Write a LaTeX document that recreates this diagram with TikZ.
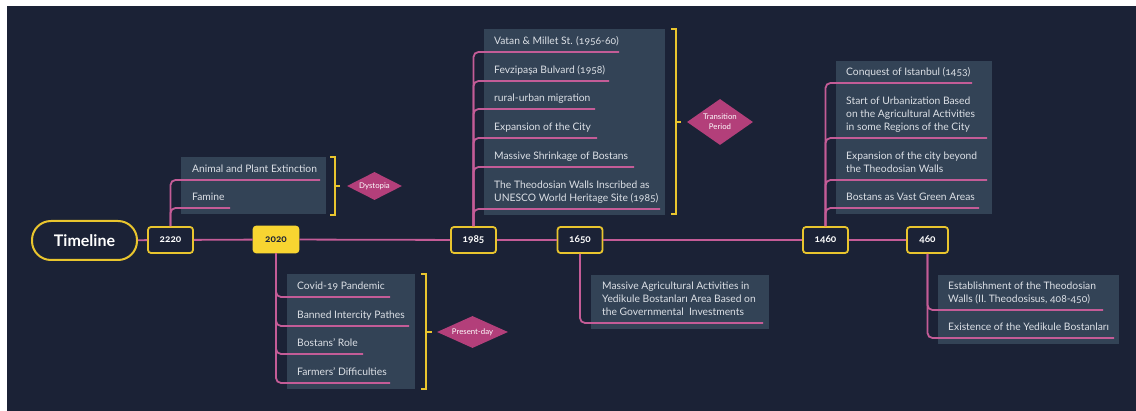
\documentclass[tikz,border=0pt]{standalone}
\usepackage{fontspec}
\setmainfont{Lato}[Numbers=OldStyle]
\usetikzlibrary{shapes.geometric}
\definecolor{bg}{HTML}{1B2236}
\definecolor{panelc}{HTML}{334356}
\definecolor{pinkl}{HTML}{C45C97}
\definecolor{yel}{HTML}{E9C52E}
\definecolor{yelfill}{HTML}{F8D531}
\definecolor{mag}{HTML}{B33F7A}
\definecolor{txt}{HTML}{DCE0E6}
\tikzset{
 conn/.style={draw=pinkl, line width=1.8pt, rounded corners=5pt},
 yearbox/.style={draw=yel, line width=1.8pt, fill=bg, rounded corners=3pt, minimum width=45pt, minimum height=26pt, inner sep=0pt, text=white, font=\fontsize{10}{12}\selectfont\bfseries},
 item/.style={anchor=base west, align=left, inner sep=0pt, text=txt, font=\fontsize{10.3}{13}\selectfont},
 tag/.style={diamond, fill=mag, text=white, inner sep=0pt, aspect=2, font=\fontsize{7.8}{10}\selectfont, align=center},
 brace/.style={draw=yel, line width=1.5pt},
 panel/.style={fill=panelc},
}
\begin{document}
\begin{tikzpicture}[x=1pt,y=-1pt]
\useasboundingbox (0,0) rectangle (1136,411);
\fill[white] (0,0) rectangle (1136,411);
\fill[bg] (7,6) rectangle (1136,411);

% panels
\fill[panel] (181,157) rectangle (326,214);
\fill[panel] (287,274) rectangle (415,389);
\fill[panel] (484,29) rectangle (665,215);
\fill[panel] (591,275) rectangle (769,329);
\fill[panel] (836,61) rectangle (992,214);
\fill[panel] (938,275) rectangle (1119,344);

% main nodes
\node[draw=yel, line width=2pt, fill=bg, rounded corners=19pt, minimum width=105pt, minimum height=39pt, inner sep=0pt, text=white, font=\fontsize{16}{18}\selectfont\bfseries] (tl) at (84.5,240.5) {Timeline};
\node[yearbox] (y2220) at (170.5,240) {2220};
\node[yearbox, fill=yelfill, draw=yelfill, text=bg] (y2020) at (276,239.5) {2020};
\node[yearbox] (y1985) at (473.5,240) {1985};
\node[yearbox] (y1650) at (580,240) {1650};
\node[yearbox] (y1460) at (825.5,240) {1460};
\node[yearbox, minimum width=41pt] (y460) at (927.5,240) {460};

% main line
\draw[conn] (tl) -- (y2220);
\draw[conn] (y2220) -- (y2020);
\draw[conn] (y2020) -- (y1985);
\draw[conn] (y1985) -- (y1650);
\draw[conn] (y1650) -- (y1460);
\draw[conn] (y1460) -- (y460);

% line ends
\coordinate (a1) at (320,180);
\coordinate (a2) at (230,208);
\coordinate (b1) at (390,297);
\coordinate (b2) at (409,326);
\coordinate (b3) at (363,354);
\coordinate (b4) at (390,383);
\coordinate (c1) at (619,52);
\coordinate (c2) at (609,81);
\coordinate (c3) at (595,109);
\coordinate (c4) at (597,138);
\coordinate (c5) at (634,167);
\coordinate (c6) at (660,209);
\coordinate (d1) at (763,323);
\coordinate (e1) at (972,83);
\coordinate (e2) at (987,138);
\coordinate (e3) at (987,180);
\coordinate (e4) at (979,208);
\coordinate (f1) at (1103,310);
\coordinate (f2) at (1114,338);

\foreach \p in {a1,a2} \draw[conn] (y2220.north) |- (\p);
\foreach \p in {b1,b2,b3,b4} \draw[conn] (y2020.south) |- (\p);
\foreach \p in {c1,c2,c3,c4,c5,c6} \draw[conn] (y1985.north) |- (\p);
\draw[conn] (y1650.south) |- (d1);
\foreach \p in {e1,e2,e3,e4} \draw[conn] (y1460.north) |- (\p);
\foreach \p in {f1,f2} \draw[conn] (y460.south) |- (\p);

% texts (anchor = baseline of the last line)
\node[item] (ta1) at (192,173) {Animal and Plant Extinction};
\node[item] (ta2) at (192,201) {Famine};
\node[item] (tb1) at (297,290) {Covid-19 Pandemic};
\node[item] (tb2) at (297,319) {Banned Intercity Pathes};
\node[item] (tb3) at (297,347) {Bostans' Role};
\node[item] (tb4) at (297,376) {Farmers' Difficulties};
\node[item] (tc1) at (494,45) {Vatan \& Millet St. (1956-60)};
\node[item] (tc2) at (494,74) {Fevzipaşa Bulvard (1958)};
\node[item] (tc3) at (494,102) {rural-urban migration};
\node[item] (tc4) at (494,131) {Expansion of the City};
\node[item] (tc5) at (494,160) {Massive Shrinkage of Bostans};
\node[item] (tc6) at (494,202) {The Theodosian Walls Inscribed as\\UNESCO World Heritage Site (1985)};
\node[item] (td1) at (602,316) {Massive Agricultural Activities in\\Yedikule Bostanları Area Based on\\the Governmental\ \ Investments};
\node[item] (te1) at (846,76) {Conquest of Istanbul (1453)};
\node[item] (te2) at (846,131) {Start of Urbanization Based\\on the Agricultural Activities\\in some Regions of the City};
\node[item] (te3) at (846,173) {Expansion of the city beyond\\the Theodosian Walls};
\node[item] (te4) at (846,201) {Bostans as Vast Green Areas};
\node[item] (tf1) at (948,303) {Establishment of the Theodosian\\Walls (II. Theodosisus, 408-450)};
\node[item] (tf2) at (948,331) {Existence of the Yedikule Bostanları};

% braces and tags
\draw[brace] (330,157) -- (335,157) -- (335,215) -- (330,215);
\coordinate (m1) at (335,186);
\node[tag, minimum width=55pt, minimum height=28pt] (g1) at (374.5,186) {Dystopia};
\draw[brace] (m1) -- ++(5,0);

\draw[brace] (421,274) -- (426,274) -- (426,389) -- (421,389);
\coordinate (m2) at (426,332);
\node[tag, minimum width=71pt, minimum height=32pt] (g2) at (472.5,332) {Present-day};
\draw[brace] (m2) -- ++(6,0);

\draw[brace] (671,29) -- (676,29) -- (676,214) -- (671,214);
\coordinate (m3) at (676,122);
\node[tag, aspect=1.4, minimum width=66pt, minimum height=46pt] (g3) at (720,122) {Transition\\Period};
\draw[brace] (m3) -- ++(5,0);
\end{tikzpicture}
\end{document}
